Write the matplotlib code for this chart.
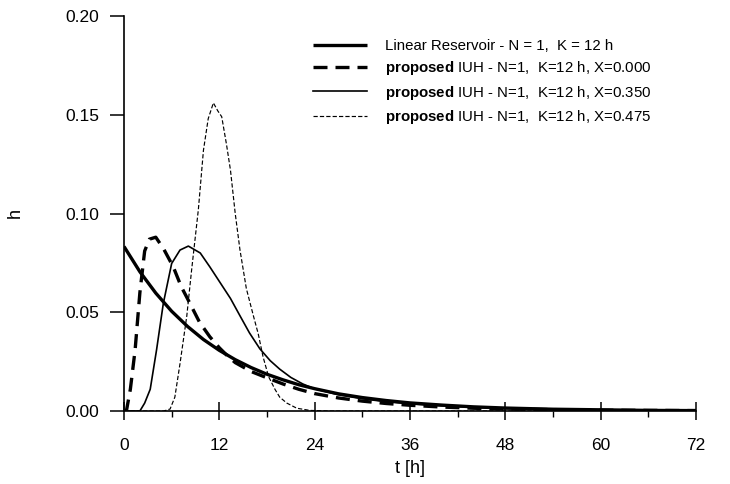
import matplotlib
matplotlib.use("Agg")
import matplotlib.pyplot as plt
from matplotlib.ticker import MultipleLocator, FormatStrFormatter

plt.rcParams['font.family'] = ['Liberation Sans', 'DejaVu Sans']
plt.rcParams['mathtext.fontset'] = 'custom'
plt.rcParams['mathtext.rm'] = 'Liberation Sans'
plt.rcParams['mathtext.bf'] = 'Liberation Sans:bold'

# ---- data ----
t_lr = [0, 2, 4, 6, 8, 10, 12, 14, 16, 18, 20, 22, 24, 27, 30, 33, 36, 40, 44, 48, 54, 60, 66, 72]
h_lr = [0.0833, 0.0705, 0.0597, 0.0505, 0.0428, 0.0362, 0.0307, 0.0260, 0.0220, 0.0186, 0.0158,
        0.0133, 0.0113, 0.0087, 0.0068, 0.0053, 0.0041, 0.0030, 0.0021, 0.0015, 0.0009, 0.0006,
        0.0003, 0.0002]

t_x000 = [0, 0.3, 0.8, 1.4, 2.0, 2.6, 3.2, 4.0, 5.0, 6.2, 7.2, 8.3, 9.5, 10.8, 12.0, 13.0, 14, 16,
          18, 20, 22, 24, 27, 30, 33, 36, 40, 44, 48, 54, 60, 66, 72]
h_x000 = [0.0, 0.0, 0.011, 0.031, 0.060, 0.081, 0.087, 0.088, 0.082, 0.073, 0.063, 0.0545, 0.045,
          0.0376, 0.032, 0.028, 0.0245, 0.0200, 0.0168, 0.0137, 0.0110, 0.0088, 0.0066, 0.0050,
          0.0038, 0.0029, 0.0020, 0.0014, 0.0010, 0.0007, 0.0004, 0.0003, 0.0002]

t_x350 = [0, 1.5, 2.0, 2.6, 3.3, 4.1, 4.95, 6.0, 7.05, 8.1, 9.6, 10.8, 12.1, 13.4, 14.6, 15.8,
          17.1, 18.4, 19.6, 21.0, 22.5, 24, 27, 30, 33, 36, 40, 44, 48, 54, 60, 66, 72]
h_x350 = [0.0, 0.0, 0.0, 0.004, 0.011, 0.031, 0.0545, 0.0747, 0.0815, 0.0835, 0.080, 0.073,
          0.0650, 0.0570, 0.0482, 0.0395, 0.0315, 0.0255, 0.0212, 0.0170, 0.0137, 0.0112, 0.0082,
          0.0062, 0.0047, 0.0036, 0.0026, 0.0018, 0.0012, 0.0008, 0.0005, 0.0003, 0.0002]

t_x475 = [0, 5.0, 5.8, 6.4, 7.05, 7.9, 8.5, 9.36, 10.0, 10.6, 11.25, 11.8, 12.3, 12.9, 13.4, 14.0,
          14.6, 15.4, 16.3, 16.9, 17.5, 18.2, 19.0, 19.6, 20.5, 21.75, 23.4, 26, 30, 36, 48, 72]
h_x475 = [0.0, 0.0, 0.001, 0.007, 0.024, 0.048, 0.071, 0.102, 0.132, 0.148, 0.156, 0.152, 0.149,
          0.135, 0.122, 0.100, 0.0815, 0.062, 0.048, 0.039, 0.0275, 0.0174, 0.011, 0.007, 0.004,
          0.0014, 0.0003, 0.0, 0.0, 0.0, 0.0, 0.0]

labels = [r"Linear Reservoir - N = 1,  K = 12 h",
          r"$\mathbf{proposed}$ IUH - N=1,  K=12 h, X=0.000",
          r"$\mathbf{proposed}$ IUH - N=1,  K=12 h, X=0.350",
          r"$\mathbf{proposed}$ IUH - N=1,  K=12 h, X=0.475"]

xticks = [0, 12, 24, 36, 48, 60, 72]
yticks = [0.00, 0.05, 0.10, 0.15, 0.20]

# ---- figure ----
W, H = 730, 484
fig = plt.figure(figsize=(W / 100, H / 100), dpi=100)
ax = fig.add_axes([124 / W, 1 - 411 / H, (696 - 124) / W, (411 - 16) / H])

ax.plot(t_lr, h_lr, color='black', lw=2.4, solid_capstyle='butt', label=labels[0])
l2, = ax.plot(t_x000, h_x000, color='black', lw=2.4, label=labels[1])
l2.set_dashes([4.2, 2.4])
ax.plot(t_x350, h_x350, color='black', lw=1.2, label=labels[2])
l4, = ax.plot(t_x475, h_x475, color='black', lw=0.85, label=labels[3])
l4.set_dashes([3.6, 1.8])

ax.set_xlim(0, 72)
ax.set_ylim(0, 0.20)
ax.set_xticks(xticks)
ax.set_yticks(yticks)
ax.xaxis.set_minor_locator(MultipleLocator(6))
ax.yaxis.set_major_formatter(FormatStrFormatter('%.2f'))

for s in ['top', 'right']:
    ax.spines[s].set_visible(False)
for s in ['left', 'bottom']:
    ax.spines[s].set_linewidth(1.2)

ax.tick_params(axis='x', which='major', direction='inout', length=13, width=1.1,
               labelsize=12.5, pad=13)
ax.tick_params(axis='x', which='minor', direction='out', length=4.5, width=1.0)
ax.tick_params(axis='y', which='major', direction='out', length=10, width=1.1,
               labelsize=12.5, pad=8)

ax.set_xlabel('t [h]', fontsize=13, labelpad=5)
ax.set_ylabel('h', fontsize=13, labelpad=30)

leg = ax.legend(loc='upper left', bbox_to_anchor=(313 / W, 1 - 39 / H),
                bbox_transform=fig.transFigure, frameon=False, fontsize=10.8,
                handlelength=3.6, handletextpad=1.2, labelspacing=0.42,
                borderpad=0, borderaxespad=0)

fig.savefig('out.png', dpi=100, facecolor='white')
